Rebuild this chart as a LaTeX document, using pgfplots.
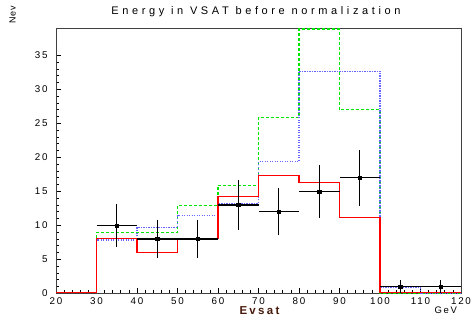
\documentclass[border=0pt]{standalone}
\usepackage{fontspec}
\setmainfont{Liberation Sans}
\usepackage{pgfplots}
\pgfplotsset{compat=1.18}
\definecolor{hgreen}{RGB}{0,230,0}
\definecolor{hblue}{RGB}{100,100,255}
\definecolor{hbrown}{RGB}{70,25,10}
\begin{document}
\begin{tikzpicture}
\path[use as bounding box] (0pt,0pt) rectangle (473pt,322pt);
\begin{axis}[
  at={(56pt,28.7pt)}, anchor=south west,
  scale only axis, width=405pt, height=265pt,
  xmin=20, xmax=120, ymin=0, ymax=39,
  xtick={20,30,...,120}, ytick={0,5,...,35},
  minor x tick num=4, minor y tick num=4,
  tick pos=left, tick align=inside,
  major tick length=5pt, minor tick length=3pt,
  axis line style={draw=black!75, line width=0.9pt},
  every tick/.style={black, line width=0.8pt},
  /pgf/number format/assume math mode=true,
  ticklabel style={font=\addfontfeatures{LetterSpace=18}\fontsize{9.8}{10}\selectfont},
  xticklabel style={yshift=-1pt},
  yticklabel style={xshift=-5pt},
  clip=false,
]
% green dashed
\addplot[const plot mark left, hgreen, line width=1.1pt, dash pattern=on 3pt off 2pt] coordinates {
 (30,0)(30,8.95)(40,8.95)(50,12.9)(60,15.9)(70,25.9)(80,38.9)(90,27.0)(100,0)(120,0)};
% blue dotted
\addplot[const plot mark left, hblue, line width=1.1pt, dash pattern=on 1.2pt off 1.3pt] coordinates {
 (30,0)(30,7.85)(40,9.65)(50,11.4)(60,13.25)(70,19.4)(80,32.7)(90,32.7)(100,0.85)(110,0)(120,0)};
% red solid
\addplot[const plot mark left, red, line width=1.1pt] coordinates {
 (20,0.08)(30,8.05)(40,6.05)(50,8.05)(60,14.2)(70,17.4)(80,16.3)(90,11.2)(100,0.08)(120,0.08)};
% data
\addplot[only marks, mark=square*, mark size=1.6pt, black,
  error bars/.cd, x dir=both, x explicit, y dir=both, y explicit,
  error mark=none, error bar style={line width=1.3pt, black}] coordinates {
 (35,10) +- (5,3.16)
 (45,8) +- (5,2.83)
 (55,8) +- (5,2.83)
 (65,13) +- (5,3.61)
 (75,12) +- (5,3.46)
 (85,15) +- (5,3.87)
 (95,17) +- (5,4.12)
 (105,1) +- (5,1)
 (115,1) +- (5,1)};
\end{axis}
\node[font=\addfontfeatures{LetterSpace=33}\fontsize{11}{12}\selectfont] at (256pt,310pt) {Energy in VSAT before normalization};
\node[rotate=90, font=\addfontfeatures{LetterSpace=10}\fontsize{9}{10}\selectfont] at (12.5pt,307pt) {Nev};
\node[font=\addfontfeatures{LetterSpace=20}\bfseries\fontsize{11.5}{12}\selectfont, text=hbrown, anchor=west] at (236pt,11pt) {Evsat};
\node[font=\addfontfeatures{LetterSpace=18}\fontsize{9.5}{10}\selectfont, anchor=west] at (431pt,11.5pt) {GeV};
\end{tikzpicture}
\end{document}
